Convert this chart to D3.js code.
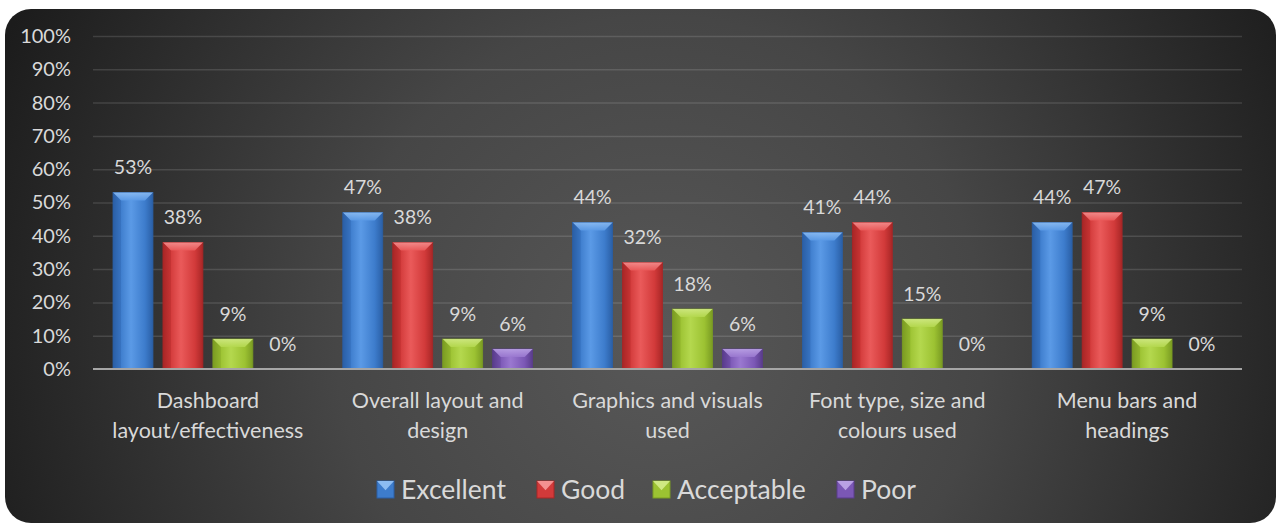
<!DOCTYPE html>
<html>
<head>
<meta charset="utf-8">
<script src="https://cdn.jsdelivr.net/npm/d3@7"></script>
<style>
  html, body { margin: 0; padding: 0; background: #ffffff; }
  svg { display: block; }
  text { font-family: Lato, "Open Sans", "Noto Sans", sans-serif; fill: #d9d9d9; }
</style>
</head>
<body>
<svg id="chart" width="1277" height="525"></svg>
<script>
// Survey ratings per dashboard aspect
const categories = [
  ["Dashboard", "layout/effectiveness"],
  ["Overall layout and", "design"],
  ["Graphics and visuals", "used"],
  ["Font type, size and", "colours used"],
  ["Menu bars and", "headings"]
];
const seriesNames = ["Excellent", "Good", "Acceptable", "Poor"];
const excellent  = [53, 47, 44, 41, 44];
const good       = [38, 38, 32, 44, 47];
const acceptable = [9, 9, 18, 15, 9];
const poor       = [0, 6, 6, 0, 0];
const yTicks = [0, 10, 20, 30, 40, 50, 60, 70, 80, 90, 100];

const seriesValues = [excellent, good, acceptable, poor];
const palette = [
  { light: "#5b9ae6", mid: "#3d7ccc", dark: "#2a5fa6", top: "#8cbcf2" },
  { light: "#ea5a5a", mid: "#d23a3a", dark: "#a82626", top: "#f49090" },
  { light: "#b4d84e", mid: "#9cc232", dark: "#7a9c22", top: "#cfe882" },
  { light: "#9a78d0", mid: "#7b57b5", dark: "#5a3c8c", top: "#b9a0e4" }
];

const svg = d3.select("#chart");
const defs = svg.append("defs");

// Dark panel with a soft radial light in the middle
const bg = defs.append("radialGradient").attr("id", "bgGrad")
  .attr("gradientUnits", "userSpaceOnUse")
  .attr("cx", 660).attr("cy", 340).attr("r", 720);
bg.append("stop").attr("offset", "0%").attr("stop-color", "#585858");
bg.append("stop").attr("offset", "45%").attr("stop-color", "#464646");
bg.append("stop").attr("offset", "100%").attr("stop-color", "#1c1c1c");

palette.forEach((p, i) => {
  const g = defs.append("linearGradient").attr("id", "bar" + i)
    .attr("x1", "0%").attr("x2", "100%").attr("y1", "0%").attr("y2", "0%");
  g.append("stop").attr("offset", "0%").attr("stop-color", p.dark);
  g.append("stop").attr("offset", "18%").attr("stop-color", p.mid);
  g.append("stop").attr("offset", "45%").attr("stop-color", p.light);
  g.append("stop").attr("offset", "80%").attr("stop-color", p.mid);
  g.append("stop").attr("offset", "100%").attr("stop-color", p.dark);
  const t = defs.append("linearGradient").attr("id", "top" + i)
    .attr("x1", "0%").attr("x2", "0%").attr("y1", "0%").attr("y2", "100%");
  t.append("stop").attr("offset", "0%").attr("stop-color", p.top);
  t.append("stop").attr("offset", "100%").attr("stop-color", p.light);
});

svg.append("rect")
  .attr("x", 5).attr("y", 9).attr("width", 1271).attr("height", 514)
  .attr("rx", 26).attr("ry", 26)
  .attr("fill", "url(#bgGrad)");

const plot = { left: 93, right: 1242, top: 36, bottom: 369 };

const x0 = d3.scaleBand()
  .domain(d3.range(categories.length))
  .range([plot.left, plot.right])
  .paddingInner(0).paddingOuter(0);

const x1 = d3.scaleBand()
  .domain(d3.range(seriesNames.length))
  .range([20, x0.bandwidth() - 20])
  .paddingInner(0.2).paddingOuter(0);

const y = d3.scaleLinear().domain([0, 100]).range([plot.bottom, plot.top]);

// Gridlines and y tick labels
const yAxis = d3.axisLeft(y)
  .tickValues(yTicks)
  .tickFormat(d => d + "%")
  .tickSize(-(plot.right - plot.left))
  .tickPadding(22);

const yg = svg.append("g")
  .attr("transform", `translate(${plot.left},0)`)
  .call(yAxis);
yg.select(".domain").remove();
yg.selectAll(".tick line")
  .attr("stroke", "#ffffff").attr("stroke-opacity", 0.13).attr("stroke-width", 1.5);
yg.selectAll(".tick text")
  .attr("font-size", 20).attr("fill", "#d9d9d9")
  .style("font-family", "Lato, 'Open Sans', sans-serif");
yg.selectAll(".tick").filter(d => d === 0).select("line").remove();

// Bars
const groups = svg.append("g").selectAll("g")
  .data(categories.map((c, i) => i))
  .join("g")
  .attr("transform", i => `translate(${x0(i)},0)`);

const bw = x1.bandwidth();
groups.each(function (ci) {
  const g = d3.select(this);
  seriesValues.forEach((vals, si) => {
    const v = vals[ci];
    const bx = x1(si);
    const by = y(v);
    const h = y(0) - by;
    if (h > 0) {
      g.append("rect")
        .attr("x", bx).attr("y", by).attr("width", bw).attr("height", h)
        .attr("fill", `url(#bar${si})`)
        .attr("stroke", palette[si].dark).attr("stroke-width", 0.8);
      const b = Math.min(8, h / 2);
      g.append("path")
        .attr("d", `M${bx},${by} L${bx + bw},${by} L${bx + bw - b},${by + b} L${bx + b},${by + b} Z`)
        .attr("fill", `url(#top${si})`).attr("opacity", 0.9);
      g.append("path")
        .attr("d", `M${bx},${by} L${bx + b},${by + b} L${bx + b},${by + h} L${bx},${by + h} Z`)
        .attr("fill", palette[si].dark).attr("opacity", 0.35);
    }
    g.append("text")
      .attr("x", bx + bw / 2)
      .attr("y", by - 25)
      .attr("dy", "0.35em")
      .attr("text-anchor", "middle")
      .attr("font-size", 19.5)
      .text(v + "%");
  });
});

// X axis line
svg.append("line")
  .attr("x1", plot.left).attr("x2", plot.right)
  .attr("y1", y(0)).attr("y2", y(0))
  .attr("stroke", "#a6a6a6").attr("stroke-width", 2);

// Category labels
const xg = svg.append("g");
categories.forEach((lines, i) => {
  const t = xg.append("text")
    .attr("x", x0(i) + x0.bandwidth() / 2)
    .attr("y", 400)
    .attr("text-anchor", "middle")
    .attr("font-size", 21.5);
  lines.forEach((ln, k) => {
    t.append("tspan")
      .attr("x", x0(i) + x0.bandwidth() / 2)
      .attr("y", 400 + k * 30)
      .attr("dy", "0.35em")
      .text(ln);
  });
});

// Legend
const legendX = [377, 537, 653, 837];
const lg = svg.append("g");
seriesNames.forEach((name, si) => {
  const lx = legendX[si];
  const ly = 481;
  const s = 17;
  lg.append("rect").attr("x", lx).attr("y", ly).attr("width", s).attr("height", s)
    .attr("fill", palette[si].mid).attr("stroke", palette[si].dark).attr("stroke-width", 1);
  lg.append("path")
    .attr("d", `M${lx},${ly} L${lx + s},${ly} L${lx + s / 2},${ly + s * 0.55} Z`)
    .attr("fill", palette[si].top);
  lg.append("text")
    .attr("x", lx + s + 7).attr("y", ly + s / 2)
    .attr("dy", "0.35em")
    .attr("font-size", 26.5)
    .text(name);
});
</script>
</body>
</html>
